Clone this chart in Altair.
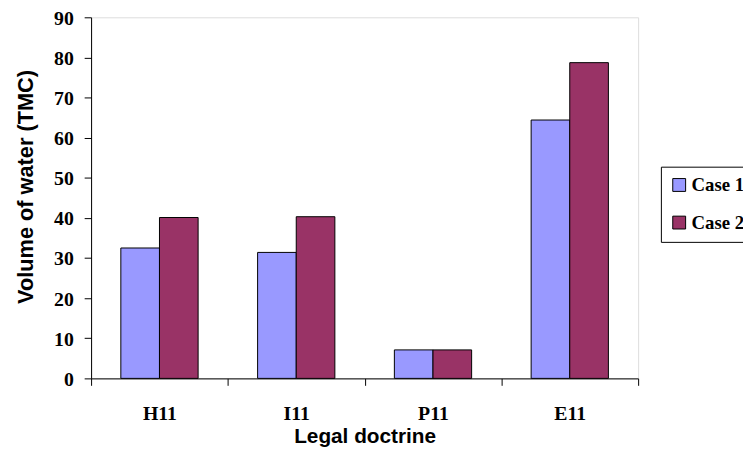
import altair as alt
import pandas as pd

doctrines = ["H11", "I11", "P11", "E11"]
case1 = [32.5, 31.4, 7.1, 64.4]
case2 = [40.1, 40.3, 7.1, 78.7]
cases = ["Case 1", "Case 2"]
colors = ["#9999FF", "#993366"]
y_ticks = [0, 10, 20, 30, 40, 50, 60, 70, 80, 90]

rows = []
for d, a, b in zip(doctrines, case1, case2):
    rows.append({"doctrine": d, "case": cases[0], "value": a})
    rows.append({"doctrine": d, "case": cases[1], "value": b})
df = pd.DataFrame(rows)

serif = "Liberation Serif"
sans = "Liberation Sans"

chart = (
    alt.Chart(df)
    .mark_bar(stroke="black", strokeWidth=1)
    .encode(
        x=alt.X(
            "doctrine:N",
            sort=doctrines,
            scale=alt.Scale(paddingInner=0, paddingOuter=0),
            axis=alt.Axis(
                title="Legal doctrine",
                labelAngle=0,
                tickBand="extent",
                tickSize=7,
                tickColor="black",
                domainColor="black",
                labelFont=serif,
                labelFontWeight="bold",
                labelFontSize=20,
                labelColor="black",
                labelPadding=19,
                titleFont=sans,
                titleFontWeight="bold",
                titleFontSize=21,
                titleColor="black",
                titlePadding=2,
            ),
        ),
        xOffset=alt.XOffset(
            "case:N",
            sort=cases,
            scale=alt.Scale(paddingInner=0, paddingOuter=0.77),
        ),
        y=alt.Y(
            "value:Q",
            scale=alt.Scale(domain=[0, 90], nice=False),
            axis=alt.Axis(
                title="Volume of water (TMC)",
                values=y_ticks,
                grid=False,
                tickSize=7,
                tickColor="black",
                domainColor="black",
                labelFont=serif,
                labelFontWeight="bold",
                labelFontSize=20,
                labelColor="black",
                labelPadding=11,
                labelOffset=1,
                titleFont=sans,
                titleFontWeight="bold",
                titleFontSize=22,
                titleColor="black",
                titlePadding=16,
                titleY=171,
            ),
        ),
        color=alt.Color(
            "case:N",
            sort=cases,
            scale=alt.Scale(domain=cases, range=colors),
            legend=alt.Legend(
                title=None,
                orient="none",
                legendX=576,
                legendY=151,
                strokeColor="black",
                padding=9,
                rowPadding=18,
                symbolType="square",
                symbolSize=169,
                symbolStrokeColor="black",
                symbolStrokeWidth=1,
                symbolOpacity=1,
                labelFont=serif,
                labelFontWeight="bold",
                labelFontSize=19,
                labelColor="black",
                labelOffset=3,
            ),
        ),
    )
    .properties(
        width=553,
        height=365,
        autosize=alt.AutoSizeParams(type="none"),
        padding={"left": 84, "top": 7, "right": 106, "bottom": 72},
    )
    .configure_view(stroke="#808080", strokeWidth=2)
    .configure(background="white")
)

chart.save("out.html", embed_options={"renderer": "svg", "actions": False})
